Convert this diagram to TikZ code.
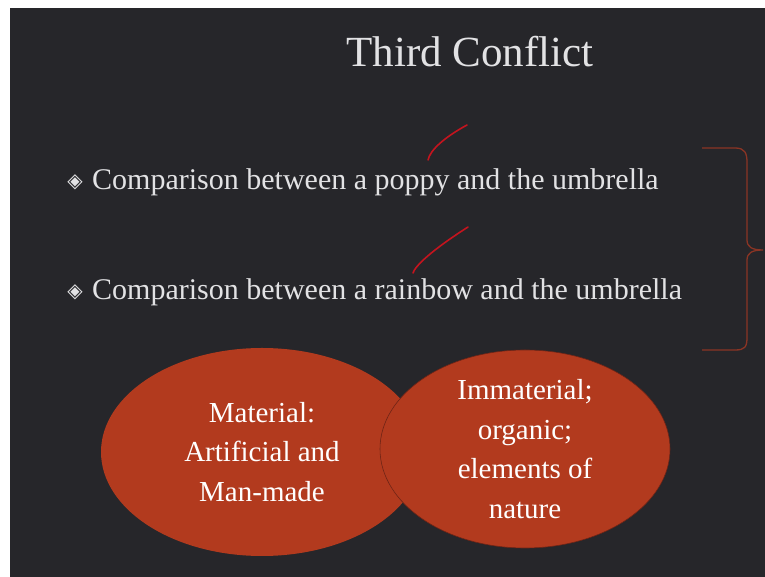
\documentclass[tikz,border=0pt]{standalone}
\usepackage{fontspec}
\setmainfont{Liberation Serif}
\newfontfamily\symfont{DejaVu Sans}
\usetikzlibrary{shapes,positioning}
\definecolor{slate}{RGB}{38,38,42}
\definecolor{rust}{RGB}{178,58,30}
\definecolor{rustline}{RGB}{138,52,36}
\definecolor{rustdark}{RGB}{110,36,22}
\definecolor{inkred}{RGB}{196,20,30}
\definecolor{chalk}{RGB}{226,226,228}
\tikzset{
	titel/.style={
		text=chalk, 
		font=\fontsize{43}{50}\selectfont, 
		anchor=base},
	punkt/.style={
		text=chalk, 
		font=\fontsize{30}{36}\selectfont, 
		anchor=base west, 
		inner sep=0pt},
	raute/.style={
		text=chalk, 
		font=\symfont\fontsize{20}{24}\selectfont, 
		inner sep=0pt},
	blase/.style={
		ellipse, 
		fill=rust, 
		text=white, 
		align=center, 
		inner sep=0pt, 
		font=\fontsize{29}{39.5}\selectfont},
	haken/.style={draw=inkred, line width=1.6pt, line cap=round},
	klammer/.style={draw=rustline, line width=1.3pt},
}

\begin{document}
\begin{tikzpicture}
			[x=1pt, y=1pt]
	  		\useasboundingbox (0,0) rectangle (765,577);
			\fill[white] (0,0) rectangle (765,577);
			\fill[slate] (10,0) rectangle (765,569);
			\node[titel] (titel) at (470,510) {Third Conflict};
			\node[raute] (r1) at (75,395) {◈};
			\node[punkt] (p1) at (92,387) {Comparison between a poppy and the umbrella};
			\node[raute] (r2) at (75,285) {◈};
			\node[punkt] (p2) at (92,277) {Comparison between a rainbow and the umbrella};
			% haken
			\draw[haken] (428,417) .. controls (430,427) and (445,440) .. (467,452);
			\draw[haken] (413,304) .. controls (415,311) and (432,327) .. (468,350);
			% klammer
			\draw[klammer] (702,429) -- (735,429) .. controls (745,429) and (747,424) .. (747,414)
				-- (747,337) .. controls (747,330) and (752,327) .. (763,327)
				.. controls (752,327) and (747,324) .. (747,317)
				-- (747,240) .. controls (747,230) and (745,227) .. (735,227) -- (702,227);
			\node[blase, minimum width=322pt, minimum height=208pt] (a) at (262,125) {Material:\\Artificial and\\Man-made};
			\node[blase, draw=rustdark, line width=0.6pt, minimum width=290pt, minimum height=198pt] (b) at (525,128) {Immaterial;\\organic;\\elements of\\nature};
		\end{tikzpicture}
\end{document}
